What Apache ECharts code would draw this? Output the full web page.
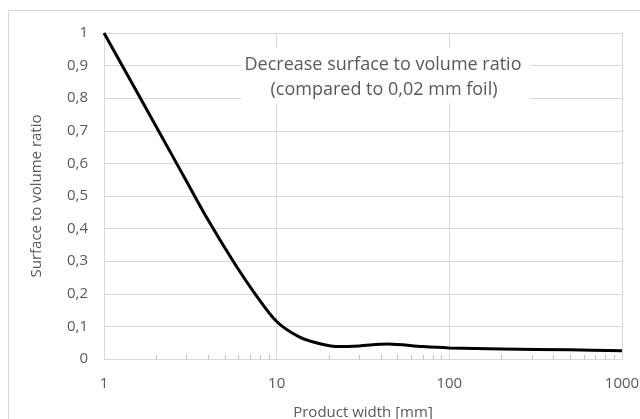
<!DOCTYPE html>
<html>
<head>
<meta charset="utf-8">
<script src="https://cdn.jsdelivr.net/npm/echarts@6/dist/echarts.min.js"></script>
<style>
  html, body { margin: 0; padding: 0; background: #fff; }
  #chart { width: 640px; height: 419px; }
</style>
</head>
<body>
<div id="chart"></div>
<script>
// product width [mm] and the ratio
var widths = [1, 2, 3, 4, 5.6, 7.5, 10, 13.6, 17.8, 23, 30, 44, 70, 100, 200, 500, 1000];
var ratios = [1, 0.714, 0.546, 0.427, 0.3, 0.2, 0.115, 0.067, 0.047, 0.038, 0.04, 0.046, 0.038, 0.034, 0.031, 0.028, 0.025];
// minor ticks on the log axis
var minorTickVals = [2, 3, 4, 5, 6, 7, 8, 9, 20, 30, 40, 50, 60, 70, 80, 90, 200, 300, 400, 500, 600, 700, 800, 900];
var noteLines = ['Decrease surface to volume ratio', '(compared to 0,02 mm foil)'];

var textColor = '#595959';
var gridColor = '#d9d9d9';
var font = 'Open Sans';

var chart = echarts.init(document.getElementById('chart'));

chart.setOption({
	animation: false,
	grid: {
		left: 104,
		right: 18,
		top: 33,
		bottom: 60,
		outerBoundsMode: 'none'
	},
	graphic: [{
		type: 'rect',
		z: -10,
		silent: true,
		shape: { x: 8.5, y: 10.5, width: 700, height: 500 },
		style: { fill: 'none', stroke: gridColor, lineWidth: 1 }
	}, {
		type: 'rect',
		z: 50,
		silent: true,
		shape: { x: 241, y: 48, width: 289, height: 55 },
		style: { fill: '#fff' }
	}, {
		type: 'text',
		z: 51,
		silent: true,
		x: 383,
		y: 65,
		style: {
			text: noteLines[0],
			fill: textColor,
			font: '18px "' + font + '"',
			textAlign: 'center',
			textVerticalAlign: 'middle'
		}
	}, {
		type: 'text',
		z: 51,
		silent: true,
		x: 384,
		y: 90,
		style: {
			text: noteLines[1],
			fill: textColor,
			font: '18px "' + font + '"',
			textAlign: 'center',
			textVerticalAlign: 'middle'
		}
	}],
	xAxis: {
		type: 'log',
		logBase: 10,
		min: 1,
		max: 1000,
		name: 'Product width [mm]',
		nameLocation: 'middle',
		nameGap: 46,
		nameTextStyle: { color: textColor, fontFamily: font, fontSize: 15 },
		axisLine: { lineStyle: { color: gridColor, width: 1 } },
		axisTick: { show: false },
		axisLabel: {
			color: textColor,
			fontFamily: font,
			fontSize: 15,
			margin: 17,
			formatter: function(v) {
				return String(v);
			}
		},
		splitLine: { show: true, lineStyle: { color: gridColor, width: 1 } }
	},
	yAxis: {
		type: 'value',
		min: 0,
		max: 1,
		interval: 0.1,
		name: 'Surface to volume ratio',
		nameLocation: 'middle',
		nameGap: 60,
		nameTextStyle: { color: textColor, fontFamily: font, fontSize: 15 },
		axisLine: { show: false },
		axisTick: { show: false },
		axisLabel: {
			color: textColor,
			fontFamily: font,
			fontSize: 15,
			margin: 16,
			formatter: function(v) {
				return String(+v.toFixed(1)).replace('.', ',');
			}
		},
		splitLine: { lineStyle: { color: gridColor, width: 1 } }
	},
	series: [{
		type: 'line',
		data: widths.map(function(w, i) {
			return [w, ratios[i]];
		}),
		smooth: 0.3,
		showSymbol: false,
		lineStyle: { color: '#000', width: 3 },
		z: 3
	}, {
		// minor tick marks, drawn up from the axis line
		type: 'custom',
		silent: true,
		data: minorTickVals.map(function(v) {
			return [v, 0];
		}),
		renderItem: function(params, api) {
			var p = api.coord([api.value(0), api.value(1)]);
			return {
				type: 'line',
				shape: { x1: Math.round(p[0]) + 0.5, y1: p[1], x2: Math.round(p[0]) + 0.5, y2: p[1] - 4 },
				style: { stroke: '#bfbfbf', lineWidth: 1 }
			};
		},
		z: 2
	}]
});
</script>
</body>
</html>
